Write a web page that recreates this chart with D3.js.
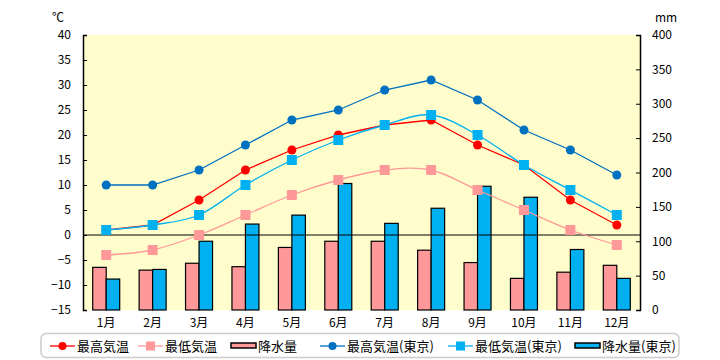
<!DOCTYPE html>
<html>
<head>
<meta charset="utf-8">
<script src="https://cdn.jsdelivr.net/npm/d3@7"></script>
<style>
  body { margin: 0; background: #fff; }
  svg { display: block; }
</style>
</head>
<body>
<div class="chart"></div>
<script>
const months = ["1月", "2月", "3月", "4月", "5月", "6月", "7月", "8月", "9月", "10月", "11月", "12月"]
const maxTemp = [1, 2, 7, 13, 17, 20, 22, 23, 18, 14, 7, 2]
const minTemp = [-4, -3, 0, 4, 8, 11, 13, 13, 9, 5, 1, -2]
const rain = [62, 58, 68, 63, 91, 100, 100, 87, 69, 46, 55, 65]
const maxTempTokyo = [10, 10, 13, 18, 23, 25, 29, 31, 27, 21, 17, 12]
const minTempTokyo = [1, 2, 4, 10, 15, 19, 22, 24, 20, 14, 9, 4]
const rainTokyo = [45, 59, 100, 125, 138, 184, 126, 148, 180, 164, 88, 46]
const tempTicks = d3.range(-15, 41, 5)
const rainTicks = d3.range(0, 401, 50)

const width = 720, height = 360
const margin = { top: 35, right: 80, bottom: 50, left: 83 }

const font = "'MS Gothic', 'Noto Sans CJK JP', sans-serif"

const svg = d3.select(".chart").append("svg")
  .attr("width", width)
  .attr("height", height)
  .attr("font-family", font)

const x = d3.scaleBand()
  .domain(months)
  .range([margin.left, width - margin.right])

const y = d3.scaleLinear()
  .domain([-15, 40])
  .range([height - margin.bottom, margin.top])

const y2 = d3.scaleLinear()
  .domain([0, 400])
  .range([height - margin.bottom, margin.top])

// plot background
svg.append("rect")
  .attr("x", margin.left)
  .attr("y", margin.top)
  .attr("width", width - margin.left - margin.right)
  .attr("height", height - margin.top - margin.bottom)
  .attr("fill", "#FFFDCC")

// bars
const barW = 13.5
const bars = svg.append("g").attr("stroke", "#000").attr("stroke-width", 1.2)
bars.selectAll(".local")
  .data(rain)
  .join("rect")
  .attr("x", (d, i) => x(months[i]) + x.bandwidth() / 2 - barW)
  .attr("y", d => y2(d))
  .attr("width", barW)
  .attr("height", d => y2(0) - y2(d))
  .attr("fill", "#FF9999")
bars.selectAll(".tokyo")
  .data(rainTokyo)
  .join("rect")
  .attr("x", (d, i) => x(months[i]) + x.bandwidth() / 2)
  .attr("y", d => y2(d))
  .attr("width", barW)
  .attr("height", d => y2(0) - y2(d))
  .attr("fill", "#00B0F0")

// zero line
svg.append("line")
  .attr("x1", margin.left)
  .attr("x2", width - margin.right)
  .attr("y1", y(0))
  .attr("y2", y(0))
  .attr("stroke", "#000")
  .attr("stroke-width", 1.2)

// axes
const leftAxis = svg.append("g")
  .attr("transform", `translate(${margin.left},0)`)
  .call(d3.axisLeft(y).tickValues(tempTicks).tickSize(-4).tickPadding(12))
const rightAxis = svg.append("g")
  .attr("transform", `translate(${width - margin.right},0)`)
  .call(d3.axisRight(y2).tickValues(rainTicks).tickSize(-4).tickPadding(12))
for (const ax of [leftAxis, rightAxis]) {
  ax.select(".domain").attr("stroke-width", 1.5)
  ax.selectAll("text").attr("font-family", font).attr("font-size", 12).attr("fill", "#000")
}

svg.append("g")
  .selectAll("text")
  .data(months)
  .join("text")
  .attr("x", d => x(d) + x.bandwidth() / 2)
  .attr("y", 327)
  .attr("text-anchor", "middle")
  .attr("font-size", 12)
  .text(d => d)

svg.append("text").attr("x", 52).attr("y", 22).attr("font-size", 12).text("℃")
svg.append("text").attr("x", 655).attr("y", 22).attr("font-size", 12).text("mm")

// lines
const series = [
  { name: "最高気温", values: maxTemp, color: "#FF0000", marker: "circle", curve: d3.curveLinear },
  { name: "最低気温", values: minTemp, color: "#FF9999", marker: "square", curve: d3.curveCatmullRom.alpha(0) },
  { name: "最高気温(東京)", values: maxTempTokyo, color: "#0070C0", marker: "circle", curve: d3.curveLinear },
  { name: "最低気温(東京)", values: minTempTokyo, color: "#00B0F0", marker: "square", curve: d3.curveCatmullRom.alpha(0) }
]

function drawMarker(g, s, cx, cy, big) {
  if (s.marker === "circle") {
    g.append("circle").attr("cx", cx).attr("cy", cy).attr("r", big ? 4.5 : 4).attr("fill", s.color)
  } else {
    const h = big ? 5 : 4.5
    g.append("rect").attr("x", cx - h).attr("y", cy - h).attr("width", h * 2).attr("height", h * 2).attr("fill", s.color)
  }
}

for (const s of series) {
  const line = d3.line()
    .x((d, i) => x(months[i]) + x.bandwidth() / 2)
    .y(d => y(d))
    .curve(s.curve)
  const g = svg.append("g")
  g.append("path")
    .attr("d", line(s.values))
    .attr("fill", "none")
    .attr("stroke", s.color)
    .attr("stroke-width", 1.3)
  s.values.forEach((d, i) => drawMarker(g, s, x(months[i]) + x.bandwidth() / 2, y(d), true))
}

// legend
const legend = svg.append("g")
legend.append("rect")
  .attr("x", 41).attr("y", 333.5)
  .attr("width", 638).attr("height", 24)
  .attr("rx", 5)
  .attr("fill", "#fff")
  .attr("stroke", "#ccc")
  .attr("stroke-width", 1.5)

const legendItems = [
  { s: series[0], x: 50, type: "line" },
  { s: series[1], x: 138, type: "line" },
  { s: { name: "降水量", color: "#FF9999" }, x: 231, type: "bar" },
  { s: series[2], x: 320, type: "line" },
  { s: series[3], x: 448, type: "line" },
  { s: { name: "降水量(東京)", color: "#00B0F0" }, x: 575, type: "bar" }
]
const ly = 346
for (const { s, x: lx, type } of legendItems) {
  if (type === "line") {
    legend.append("line")
      .attr("x1", lx).attr("x2", lx + 25)
      .attr("y1", ly).attr("y2", ly)
      .attr("stroke", s.color).attr("stroke-width", 1.3)
    drawMarker(legend, s, lx + 12.5, ly, false)
  } else {
    legend.append("rect")
      .attr("x", lx).attr("y", ly - 3)
      .attr("width", 25).attr("height", 5)
      .attr("fill", s.color)
      .attr("stroke", "#000").attr("stroke-width", 1.5)
  }
  legend.append("text")
    .attr("x", lx + 27)
    .attr("y", ly)
    .attr("dy", "0.36em")
    .attr("font-size", 13)
    .text(s.name)
}
</script>
</body>
</html>
